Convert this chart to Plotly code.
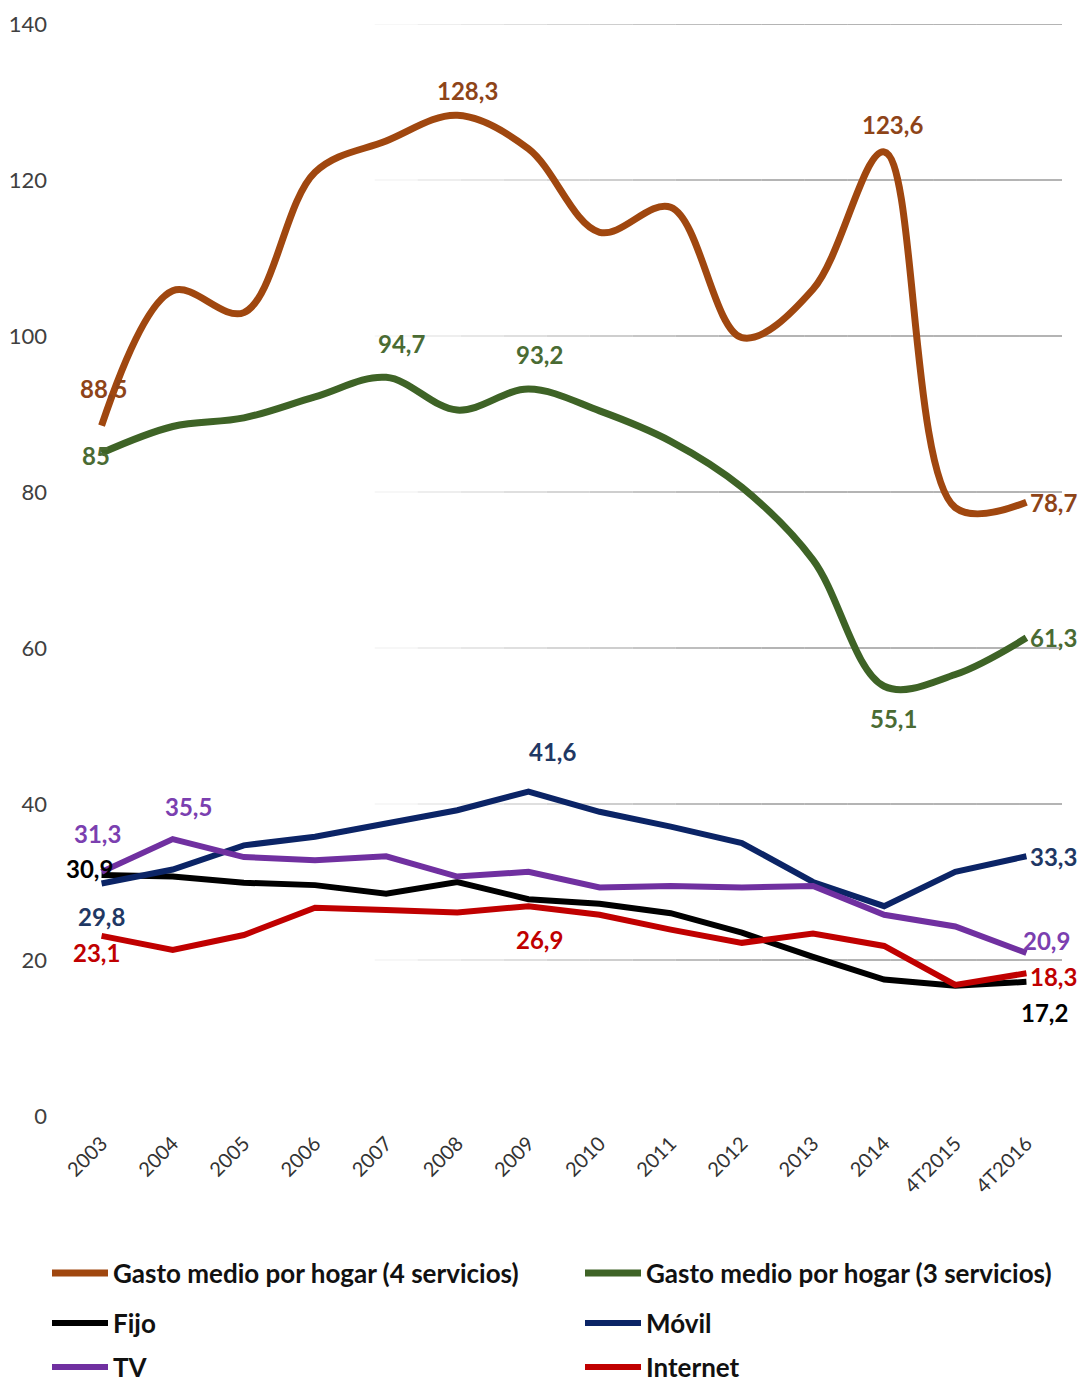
import plotly.graph_objects as go

categories = ['2003', '2004', '2005', '2006', '2007', '2008', '2009', '2010',
              '2011', '2012', '2013', '2014', '4T2015', '4T2016']

gasto4 = [88.5, 105.8, 103.0, 121.0, 125.0, 128.3, 124.0, 113.3, 116.5, 99.8, 106.0, 123.6, 78.0, 78.7]
gasto3 = [85.0, 88.4, 89.5, 92.2, 94.7, 90.5, 93.2, 90.4, 86.5, 80.6, 71.3, 55.1, 56.6, 61.3]
fijo = [30.9, 30.7, 29.9, 29.6, 28.5, 30.0, 27.8, 27.2, 26.0, 23.5, 20.4, 17.5, 16.7, 17.2]
movil = [29.8, 31.6, 34.7, 35.8, 37.5, 39.2, 41.6, 39.0, 37.1, 35.0, 30.0, 26.9, 31.3, 33.3]
tv = [31.3, 35.5, 33.2, 32.8, 33.3, 30.7, 31.3, 29.3, 29.5, 29.3, 29.5, 25.8, 24.3, 20.9]
internet = [23.1, 21.3, 23.2, 26.7, 26.4, 26.1, 26.9, 25.8, 23.9, 22.2, 23.4, 21.8, 16.8, 18.3]

y_ticks = [0, 20, 40, 60, 80, 100, 120, 140]

FONT = 'Lato'

W, H = 1081, 1384

series = [
    dict(name='Gasto medio por hogar (4 servicios)', y=gasto4, color='#A0470F', lab='#8E4418',
         width=7, shape='spline', legend='legend', col=0, row=0),
    dict(name='Gasto medio por hogar (3 servicios)', y=gasto3, color='#3E6326', lab='#4A6B33',
         width=7, shape='spline', legend='legend2', col=1, row=0),
    dict(name='Fijo', y=fijo, color='#000000', lab='#000000', width=6, shape='linear',
         legend='legend3', col=0, row=1),
    dict(name='Móvil', y=movil, color='#0B2466', lab='#1F3864', width=6, shape='linear',
         legend='legend4', col=1, row=1),
    dict(name='TV', y=tv, color='#7030A0', lab='#7B3FB0', width=6, shape='linear',
         legend='legend5', col=0, row=2),
    dict(name='Internet', y=internet, color='#C00000', lab='#C00000', width=6, shape='linear',
         legend='legend6', col=1, row=2),
]

# (series index, point index, x shift px, y shift px (up positive))
labels = [
    (0, 0, 2, 37), (0, 5, 10, 25), (0, 11, 8, 27), (0, 13, 27, 0),
    (1, 0, -6, -2), (1, 4, 15, 34), (1, 6, 11, 35), (1, 11, 9, -32), (1, 13, 27, 0),
    (3, 0, 0, -33), (3, 6, 24, 40), (3, 13, 27, 0),
    (4, 0, -4, 38), (4, 1, 16, 33), (4, 13, 20, 12),
    (2, 0, -12, 6), (2, 13, 18, -31),
    (5, 0, -5, -17), (5, 6, 11, -33), (5, 13, 27, -3),
]


def fmt(v):
    s = f"{v:.1f}"
    if s.endswith('.0'):
        s = s[:-2]
    return s.replace('.', ',')


fig = go.Figure()
for s in series:
    fig.add_trace(go.Scatter(
        x=categories, y=s['y'], name=s['name'], mode='lines',
        line=dict(color=s['color'], width=s['width'], shape=s['shape'], smoothing=1.0),
        legend=s['legend'], hoverinfo='x+y+name'))

annotations = []
for si, pi, dx, dy in labels:
    s = series[si]
    annotations.append(dict(
        x=pi, y=s['y'][pi], xref='x', yref='y',
        text=fmt(s['y'][pi]), showarrow=False, xshift=dx, yshift=dy,
        font=dict(family=FONT, size=24, color=s['lab'], weight='bold'),
        xanchor='center', yanchor='middle'))

# gridlines with a fading gradient from left to right
shapes = []
nseg = 16
x_start = 0.31
for t in y_ticks[1:]:
    for k in range(nseg):
        x0 = x_start + (1 - x_start) * k / nseg
        x1 = x_start + (1 - x_start) * (k + 1) / nseg
        f = min(1.0, (k + 0.5) / (nseg * 0.55))
        g = int(250 - (250 - 155) * f)
        shapes.append(dict(type='line', xref='paper', yref='y', x0=x0, x1=x1, y0=t, y1=t,
                           line=dict(color=f'rgb({g},{g},{g})', width=1.6), layer='below'))

col_x = [47 / W, 580 / W]
row_y = [1 - 1273 / H, 1 - 1323 / H, 1 - 1367 / H]

legends = {}
for s in series:
    legends[s['legend']] = dict(
        orientation='h', xref='container', yref='container',
        x=col_x[s['col']], y=row_y[s['row']], xanchor='left', yanchor='middle',
        font=dict(family=FONT, size=26, color='#111111', weight='bold'),
        bgcolor='rgba(0,0,0,0)', itemwidth=56)

fig.update_layout(
    width=W, height=H,
    margin=dict(l=66, r=19, t=24, b=268, autoexpand=False),
    paper_bgcolor='white', plot_bgcolor='white',
    font=dict(family=FONT, color='#404040'),
    xaxis=dict(type='category', range=[-0.5, len(categories) - 0.5], autorange=False,
               tickangle=-45, showgrid=False, showline=False, zeroline=False,
               ticks='', tickfont=dict(family=FONT, size=20, color='#333333'), ticklabelstandoff=11),
    yaxis=dict(range=[0, 140], autorange=False, tickvals=y_ticks, showgrid=False, showline=False,
               zeroline=False, ticks='', tickfont=dict(family=FONT, size=22, color='#404040'),
               ticklabelstandoff=18),
    annotations=annotations,
    shapes=shapes,
    showlegend=True,
    **legends,
)

fig.write_html('out.html', config={'displayModeBar': False},
               post_script="document.body.style.margin='0';document.body.style.overflow='hidden';")
